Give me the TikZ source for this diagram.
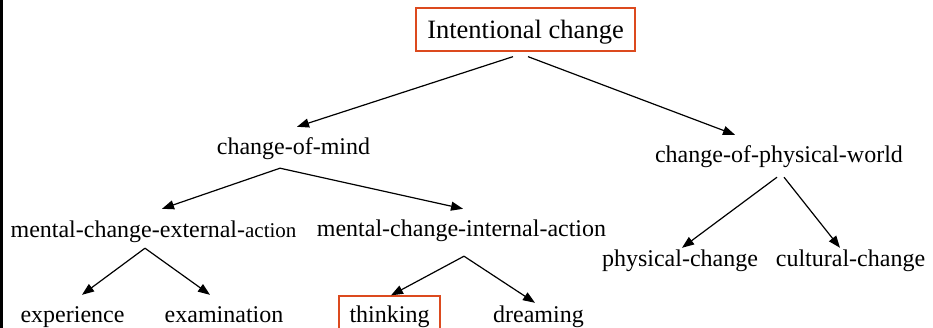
\documentclass[tikz,border=0pt]{standalone}
\usepackage{fontspec}
\setmainfont{Liberation Serif}
\usetikzlibrary{arrows.meta}
\definecolor{boxred}{RGB}{220,74,30}
\tikzset{
  lbl/.style={font=\fontsize{24}{28}\selectfont, inner sep=0pt,
    text height=17pt, text depth=5pt, anchor=base},
  redbox/.style={draw=boxred, line width=1.3pt, inner sep=0pt, text depth=5pt},
  link/.style={line width=1.2pt, -{Triangle[length=12pt,width=9pt]}}
}
\begin{document}
\begin{tikzpicture}[x=1pt,y=-1pt]
\path[use as bounding box, clip] (0,0) rectangle (933,328);
\fill[black] (0,0) rectangle (3,328);

% root
\node[redbox, font=\fontsize{26.5}{30}\selectfont, text height=24pt,
  minimum width=219pt, minimum height=43pt] (ic) at (525.5,29.5) {Intentional change};

% second level
\node[lbl] (com) at (293.5,155) {change-of-mind};
\node[lbl] (cpw) at (779,163) {change-of-physical-world};

% third level
\node[lbl] (mce) at (153.5,238) {mental-change-external-{\fontsize{21}{24}\selectfont action}};
\node[lbl] (mci) at (461.5,237) {mental-change-internal-action};
\node[lbl] (phy) at (680,267) {physical-change};
\node[lbl] (cul) at (850.5,267) {cultural-change};

% leaves
\node[lbl] (exp) at (72.5,322) {experience};
\node[lbl] (exa) at (224,322) {examination};
\node[redbox, font=\fontsize{24}{28}\selectfont, text height=14pt,
  minimum width=101pt, minimum height=43pt] (thk) at (389.5,317.5) {thinking};
\node[lbl] (drm) at (538.5,322) {dreaming};

% connectors
\draw[link] ([xshift=-12.5pt,yshift=-5pt]ic.south) -- ([xshift=3.5pt,yshift=11pt]com.north);
\draw[link] ([xshift=2.5pt,yshift=-5pt]ic.south) -- ([xshift=-44pt,yshift=11pt]cpw.north);

\draw[link] ([xshift=-13.5pt,yshift=-8pt]com.south) -- ([xshift=8.5pt,yshift=12pt]mce.north);
\draw[link] ([xshift=-13.5pt,yshift=-8pt]com.south) -- ([xshift=1.5pt,yshift=11pt]mci.north);

\draw[link] ([xshift=-8.5pt,yshift=-5pt]mce.south) -- ([xshift=9.5pt,yshift=10pt]exp.north);
\draw[link] ([xshift=-8.5pt,yshift=-5pt]mce.south) -- ([xshift=-14pt,yshift=10pt]exa.north);

\draw[link] ([xshift=2.5pt,yshift=-14pt]mci.south) -- ([xshift=1.5pt]thk.north);
\draw[link] ([xshift=2.5pt,yshift=-14pt]mci.south) -- ([xshift=-3.5pt,yshift=2pt]drm.north);

\draw[link] ([xshift=-2pt,yshift=-9pt]cpw.south) -- ([xshift=2pt,yshift=2pt]phy.north);
\draw[link] ([xshift=5pt,yshift=-9pt]cpw.south) -- ([xshift=-10.5pt,yshift=2pt]cul.north);
\end{tikzpicture}
\end{document}
